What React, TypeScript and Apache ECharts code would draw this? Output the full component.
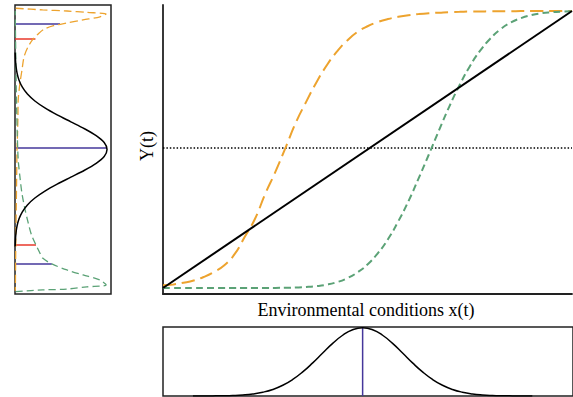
import React, { useEffect, useRef } from "react";
import * as echarts from "echarts";

// Main panel: environmental conditions x and responses Y
const X_STEPS = [0, 0.025, 0.05, 0.075, 0.1, 0.125, 0.15, 0.175, 0.2, 0.225, 0.25, 0.275, 0.3, 0.325, 0.35, 0.375, 0.4, 0.425, 0.45, 0.475, 0.5, 0.525, 0.55, 0.575, 0.6, 0.625, 0.65, 0.675, 0.7, 0.725, 0.75, 0.775, 0.8, 0.825, 0.85, 0.875, 0.9, 0.925, 0.95, 0.975, 1];
const ORANGE_RESPONSE = [0.010, 0.013, 0.019, 0.027, 0.040, 0.058, 0.082, 0.122, 0.185, 0.25, 0.34, 0.42, 0.508, 0.598, 0.672, 0.742, 0.803, 0.853, 0.893, 0.924, 0.945, 0.96, 0.971, 0.979, 0.985, 0.989, 0.992, 0.994, 0.996, 0.997, 0.998, 0.998, 0.999, 0.999, 0.999, 1.0, 1.0, 1.0, 1.0, 1.0, 1.0];
const GREEN_RESPONSE = [0, 0, 0, 0, 0, 0, 0, 0, 0, 0.0001, 0.0002, 0.0004, 0.0008, 0.0018, 0.0035, 0.0066, 0.012, 0.021, 0.035, 0.056, 0.085, 0.125, 0.176, 0.24, 0.313, 0.396, 0.482, 0.57, 0.655, 0.732, 0.80, 0.856, 0.90, 0.934, 0.958, 0.974, 0.985, 0.992, 0.9955, 0.9977, 0.9989];
const LINEAR_X = [0, 1];
const LINEAR_Y = [0, 1];
const THRESHOLD_Y = 0.505;

// Left panel: densities of Y (value = relative density, y = response)
const BLACK_DENS_Y = [0.15, 0.175, 0.2, 0.225, 0.25, 0.275, 0.3, 0.325, 0.35, 0.375, 0.4, 0.425, 0.45, 0.475, 0.5, 0.525, 0.55, 0.575, 0.6, 0.625, 0.65, 0.675, 0.7, 0.725, 0.75, 0.775, 0.8, 0.825, 0.85];
const BLACK_DENS = [0.002, 0.005, 0.011, 0.023, 0.044, 0.08, 0.135, 0.216, 0.325, 0.458, 0.607, 0.755, 0.882, 0.969, 1.0, 0.969, 0.882, 0.755, 0.607, 0.458, 0.325, 0.216, 0.135, 0.08, 0.044, 0.023, 0.011, 0.005, 0.002];
const ORANGE_DENS_Y = [1.01, 1.004, 1.0, 0.995, 0.989, 0.979, 0.968, 0.957, 0.947, 0.935, 0.92, 0.9, 0.87, 0.834, 0.787, 0.74, 0.68, 0.62, 0.55, 0.5, 0.4, 0.3, 0.2, 0.1, 0.0, -0.01];
const ORANGE_DENS = [0.008, 0.30, 0.565, 0.78, 0.99, 0.924, 0.739, 0.565, 0.42, 0.32, 0.26, 0.2, 0.141, 0.098, 0.076, 0.054, 0.035, 0.032, 0.027, 0.022, 0.018, 0.014, 0.01, 0.007, 0.004, 0.003];
const GREEN_DENS_Y = [-0.013, -0.007, -0.004, 0.004, 0.011, 0.029, 0.047, 0.065, 0.087, 0.108, 0.13, 0.155, 0.191, 0.233, 0.282, 0.343, 0.40, 0.462, 0.55, 0.65, 0.75, 0.85, 0.95, 1.0];
const GREEN_DENS = [0.008, 0.30, 0.56, 0.78, 0.99, 0.92, 0.74, 0.565, 0.40, 0.30, 0.265, 0.228, 0.18, 0.145, 0.11, 0.075, 0.054, 0.035, 0.025, 0.018, 0.012, 0.008, 0.004, 0.003];

// Left panel marker lines: [response level, density reached, colour key]
const MARK_LEVELS = [0.953, 0.899, 0.505, 0.155, 0.087];
const MARK_LENGTHS = [0.489, 0.222, 1.0, 0.228, 0.40];
const MARK_KINDS = ["blue", "red", "blue", "red", "blue"];

// Bottom panel: density of x
const BOTTOM_X = [0.075, 0.1, 0.125, 0.15, 0.175, 0.2, 0.225, 0.25, 0.275, 0.3, 0.325, 0.35, 0.375, 0.4, 0.425, 0.45, 0.475, 0.5, 0.525, 0.55, 0.575, 0.6, 0.625, 0.65, 0.675, 0.7, 0.725, 0.75, 0.775, 0.8, 0.825, 0.85, 0.875, 0.9, 0.925];
const BOTTOM_DENS = [0.0002, 0.0006, 0.0015, 0.0035, 0.0076, 0.0156, 0.0303, 0.0556, 0.0963, 0.1574, 0.2427, 0.3534, 0.4856, 0.63, 0.771, 0.891, 0.9715, 1.0, 0.9715, 0.891, 0.771, 0.63, 0.4856, 0.3534, 0.2427, 0.1574, 0.0963, 0.0556, 0.0303, 0.0156, 0.0076, 0.0035, 0.0015, 0.0006, 0.0002];
const BOTTOM_MEAN = 0.5;

const ORANGE = "#EDA32E";
const GREEN = "#5BA276";
const BLUE = "#45379B";
const RED = "#E8392B";
const AXIS = "#222";
const Y_MIN = -0.0217;
const Y_MAX = 1.0217;

const zip = (a: number[], b: number[]) => a.map((v, i) => [v, b[i]]);

export default function App() {
  const ref = useRef<HTMLDivElement>(null);
  useEffect(() => {
    if (!ref.current) return;
    const chart = echarts.init(ref.current, null, { renderer: "svg" });
    const hidden = {
      axisLabel: { show: false },
      axisTick: { show: false },
      splitLine: { show: false },
    };
    const markSeries = MARK_LEVELS.map((lvl, i) => ({
      type: "line",
      xAxisIndex: 0,
      yAxisIndex: 0,
      symbol: "none",
      silent: true,
      data: [
        [0, lvl],
        [MARK_LENGTHS[i], lvl],
      ],
      lineStyle: { color: MARK_KINDS[i] === "blue" ? BLUE : RED, width: 1.5 },
      z: 1,
    }));
    chart.setOption({
      animation: false,
      backgroundColor: "#fff",
      grid: [
        { left: 15, top: 5, width: 96, height: 289, show: true, borderColor: AXIS, borderWidth: 1.5, backgroundColor: "transparent" },
        { left: 163, top: 5, width: 409, height: 289 },
        { left: 163, top: 327, width: 420, height: 69, show: true, borderColor: AXIS, borderWidth: 1.5, backgroundColor: "transparent" },
      ],
      xAxis: [
        { type: "value", gridIndex: 0, min: 0, max: 1.043, axisLine: { show: false }, ...hidden },
        { type: "value", gridIndex: 1, min: 0, max: 1, axisLine: { show: true, onZero: false, lineStyle: { color: AXIS, width: 1.8 } }, ...hidden },
        { type: "value", gridIndex: 2, min: 0, max: 420 / 409, axisLine: { show: false }, ...hidden },
      ],
      yAxis: [
        { type: "value", gridIndex: 0, min: Y_MIN, max: Y_MAX, axisLine: { show: false }, ...hidden },
        { type: "value", gridIndex: 1, min: Y_MIN, max: Y_MAX, axisLine: { show: true, onZero: false, lineStyle: { color: AXIS, width: 1.8 } }, ...hidden },
        { type: "value", gridIndex: 2, min: 0, max: 1.012, axisLine: { show: false }, ...hidden },
      ],
      graphic: [
        {
          type: "text",
          x: 366,
          y: 310,
          style: {
            text: "Environmental conditions x(t)",
            font: '18px "Liberation Serif"',
            fill: "#000",
            align: "center",
            verticalAlign: "middle",
          },
        },
        {
          type: "text",
          x: 147,
          y: 146,
          rotation: Math.PI / 2,
          style: {
            text: "Y(t)",
            font: '18px "Liberation Serif"',
            fill: "#000",
            align: "center",
            verticalAlign: "middle",
          },
        },
      ],
      series: [
        ...markSeries,
        {
          type: "line", xAxisIndex: 0, yAxisIndex: 0, symbol: "none", silent: true, smooth: 0.3,
          data: zip(BLACK_DENS, BLACK_DENS_Y),
          lineStyle: { color: "#000", width: 1.5 }, z: 3,
        },
        {
          type: "line", xAxisIndex: 0, yAxisIndex: 0, symbol: "none", silent: true, smooth: 0.3,
          data: zip(ORANGE_DENS, ORANGE_DENS_Y),
          lineStyle: { color: ORANGE, width: 1.3, type: [8, 4] }, z: 2,
        },
        {
          type: "line", xAxisIndex: 0, yAxisIndex: 0, symbol: "none", silent: true, smooth: 0.3,
          data: zip(GREEN_DENS, GREEN_DENS_Y),
          lineStyle: { color: GREEN, width: 1.3, type: [7, 4] }, z: 2,
        },
        {
          type: "line", xAxisIndex: 1, yAxisIndex: 1, symbol: "none", silent: true,
          data: [[0, THRESHOLD_Y], [1, THRESHOLD_Y]],
          lineStyle: { color: "#000", width: 1.5, type: [1.5, 1.9] }, z: 1,
        },
        {
          type: "line", xAxisIndex: 1, yAxisIndex: 1, symbol: "none", silent: true, smooth: true,
          data: zip(X_STEPS, ORANGE_RESPONSE),
          lineStyle: { color: ORANGE, width: 2, type: [13, 6] }, z: 2,
        },
        {
          type: "line", xAxisIndex: 1, yAxisIndex: 1, symbol: "none", silent: true, smooth: true,
          data: zip(X_STEPS, GREEN_RESPONSE),
          lineStyle: { color: GREEN, width: 2, type: [7, 4] }, z: 2,
        },
        {
          type: "line", xAxisIndex: 1, yAxisIndex: 1, symbol: "none", silent: true,
          data: zip(LINEAR_X, LINEAR_Y),
          lineStyle: { color: "#000", width: 2 }, z: 3,
        },
        {
          type: "line", xAxisIndex: 2, yAxisIndex: 2, symbol: "none", silent: true, smooth: true,
          data: zip(BOTTOM_X, BOTTOM_DENS),
          lineStyle: { color: "#000", width: 1.5 }, z: 3,
        },
        {
          type: "line", xAxisIndex: 2, yAxisIndex: 2, symbol: "none", silent: true,
          data: [[BOTTOM_MEAN, 0], [BOTTOM_MEAN, 1.012]],
          lineStyle: { color: BLUE, width: 1.5 }, z: 2,
        },
      ],
    });
    return () => chart.dispose();
  }, []);
  return (
    <div
      ref={ref}
      style={{ position: "fixed", left: 0, top: 0, width: 573, height: 397 }}
    />
  );
}
